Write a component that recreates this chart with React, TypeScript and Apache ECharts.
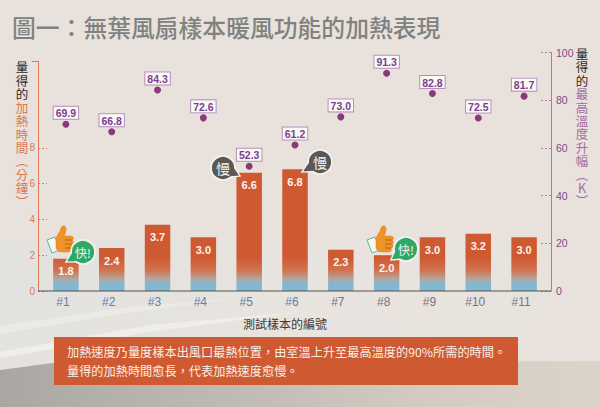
import React, { useEffect, useRef } from "react";
import * as echarts from "echarts";

const categories = ["#1", "#2", "#3", "#4", "#5", "#6", "#7", "#8", "#9", "#10", "#11"];
const heatingMinutes = [1.8, 2.4, 3.7, 3.0, 6.6, 6.8, 2.3, 2.0, 3.0, 3.2, 3.0];
const maxTempRise = [69.9, 66.8, 84.3, 72.6, 52.3, 61.2, 73.0, 91.3, 82.8, 72.5, 81.7];
const leftTicks = [0, 2, 4, 6, 8];
const titleText = "圖一\uFF1A無葉風扇樣本暖風功能的加熱表現";
const xName = "測試樣本的編號";
const noteLines = [
  "加熱速度乃量度樣本出風口最熱位置\uFF0C由室溫上升至最高溫度的90%所需的時間。",
  "量得的加熱時間愈長\uFF0C代表加熱速度愈慢。",
];
const measured = ["量", "得", "的"];
const leftName = ["加", "熱", "時", "間", "︵", "分", "鐘", "︶"];
const rightName = ["最", "高", "溫", "度", "升", "幅", "︵", "K", "︶"];

const CJK = '"Noto Sans CJK TC", sans-serif';
const LATIN = '"Liberation Sans", Arial, sans-serif';
const ORANGE = "#cf5a31";
const PURPLE = "#8a3a7c";

echarts.graphic.registerShape(
  "thumbFist",
  echarts.graphic.extendPath(
    "M9 13 C11 9 13 7 14 3 C15 0 19 0 19 4 C19 7 18 9 17 11 L24 11 C27 11 27 15 25 15 C27 16 27 19 25 19 C27 20 26 23 24 23 C25 25 24 27 22 27 L14 27 C11 27 10 25 9 23 Z",
    {}
  )
);

function bubble(cx: number, cy: number, tx: number, ty: number, a: number, color: string, label: string, size: number) {
  const dx = tx - cx;
  const dy = ty - cy;
  const d = Math.hypot(dx, dy);
  const nx = -dy / d;
  const ny = dx / d;
  const bx = cx + (dx / d) * 9;
  const by = cy + (dy / d) * 9;
  const tail = [
    [bx + nx * 6, by + ny * 6],
    [tx, ty],
    [bx - nx * 6, by - ny * 6],
  ];
  return [
    { type: "polygon", z: 100, shape: { points: tail }, style: { fill: color, stroke: "#f4f1ee", lineWidth: 1.5 } },
    { type: "circle", z: 100, shape: { cx, cy, r: a }, style: { fill: color, stroke: "#f4f1ee", lineWidth: 1.8 } },
    { type: "polygon", z: 100, shape: { points: tail.map(([x, y]) => [x + (cx - x) * 0.08, y + (cy - y) * 0.08]) }, style: { fill: color } },
    {
      type: "text",
      z: 101,
      x: cx,
      y: cy,
      style: { text: label, fill: "#f4f6f0", font: `${size}px ${CJK}`, align: "center", verticalAlign: "middle" },
    },
  ];
}

function thumb(x: number, y: number) {
  return {
    type: "group",
    x,
    y,
    z: 100,
    children: [
      { type: "polygon", z: 100, shape: { points: [[0, 15], [8, 12], [13, 25], [5, 28]] }, style: { fill: "#f6f8f2", stroke: "#5cb59a", lineWidth: 1 } },
      { type: "thumbFist", z: 100, x: 0, y: 0, style: { fill: "#ee9327", stroke: "#e2801c", lineWidth: 0.5 } },
      { type: "line", z: 101, shape: { x1: 18, y1: 15, x2: 25, y2: 15 }, style: { stroke: "#b9631a", lineWidth: 1 } },
      { type: "line", z: 101, shape: { x1: 18, y1: 19, x2: 25, y2: 19 }, style: { stroke: "#b9631a", lineWidth: 1 } },
      { type: "line", z: 101, shape: { x1: 18, y1: 23, x2: 24, y2: 23 }, style: { stroke: "#b9631a", lineWidth: 1 } },
    ],
  };
}

function columnText(chars: string[], x: number, y: number, fill: string, z = 50) {
  return {
    type: "text",
    z,
    x,
    y,
    style: {
      text: chars.join("\n"),
      fill,
      font: `12.5px ${CJK}`,
      lineHeight: 13.4,
      align: "center",
      verticalAlign: "top",
    },
  };
}

export default function App() {
  const ref = useRef<HTMLDivElement>(null);
  useEffect(() => {
    document.body.style.margin = "0";
    const chart = echarts.init(ref.current!, null, { renderer: "svg" });
    const barGradient = new echarts.graphic.LinearGradient(
      0,
      291,
      0,
      258,
      [
        { offset: 0, color: "#82b9d4" },
        { offset: 0.25, color: "#84b6cf" },
        { offset: 0.36, color: "#b3a79c" },
        { offset: 0.62, color: "#cf7452" },
        { offset: 1, color: ORANGE },
      ],
      true
    );
    chart.setOption({
      animation: false,
      backgroundColor: "#e9e1db",
      grid: [
        { left: 43, right: 53, top: 61, bottom: 116 },
        { left: 43, right: 53, top: 52.5, bottom: 116 },
      ],
      xAxis: [
        {
          type: "category",
          gridIndex: 0,
          data: categories,
          axisLine: { show: false },
          axisTick: { show: false },
          axisLabel: {
            margin: 5,
            padding: [0, 6, 0, 0],
            interval: 0,
            fontFamily: LATIN,
            fontSize: 12,
            color: (_v: string, i: number) => (i < 6 ? "#5f80aa" : "#7d7282"),
          },
          name: xName,
          nameLocation: "middle",
          nameGap: 26,
          nameTextStyle: { fontFamily: CJK, fontSize: 12, color: "#3a3a3a", padding: [0, 20, 0, 0] },
        },
        { type: "category", gridIndex: 1, data: categories, show: false },
      ],
      yAxis: [
        {
          type: "value",
          gridIndex: 0,
          min: 0,
          max: 12.85,
          offset: 5,
          splitLine: { show: false },
          axisLine: { show: true, lineStyle: { color: "#dc7b57", width: 1 } },
          axisTick: { show: true, inside: true, length: 9, customValues: leftTicks, lineStyle: { color: "#dc7b57", type: [2, 2] } },
          axisLabel: { customValues: leftTicks, margin: 3, fontFamily: LATIN, fontSize: 10, color: "#d67b58" },
        },
        {
          type: "value",
          gridIndex: 1,
          position: "right",
          min: 0,
          max: 100,
          interval: 20,
          offset: 4,
          splitLine: { show: false },
          axisLine: { show: true, lineStyle: { color: "#a67cab", width: 1 } },
          axisTick: { show: true, inside: true, length: 10, lineStyle: { color: "#a67cab", type: [2, 2] } },
          axisLabel: { margin: 5, fontFamily: LATIN, fontSize: 10.5, color: "#7c4c90" },
        },
      ],
      series: [
        {
          type: "bar",
          xAxisIndex: 0,
          yAxisIndex: 0,
          data: heatingMinutes,
          barWidth: 25.5,
          itemStyle: { color: barGradient },
          label: {
            show: true,
            position: "insideTop",
            distance: 7,
            formatter: (p: any) => p.value.toFixed(1),
            color: "#fbf3ee",
            fontFamily: LATIN,
            fontWeight: "bold",
            fontSize: 11,
          },
        },
        {
          type: "line",
          xAxisIndex: 1,
          yAxisIndex: 1,
          data: maxTempRise,
          symbol: "circle",
          symbolSize: 7,
          lineStyle: { opacity: 0 },
          itemStyle: { color: PURPLE },
          z: 5,
          label: {
            show: true,
            position: "top",
            distance: 2,
            formatter: (p: any) => p.value.toFixed(1),
            color: "#7a3f8c",
            fontFamily: LATIN,
            fontWeight: "bold",
            fontSize: 10.5,
            backgroundColor: "#fbf9f8",
            borderColor: "#b68fbd",
            borderWidth: 1,
            padding: [1, 2, 0, 2],
          },
        },
      ],
      graphic: [
        { type: "rect", z: -10, silent: true, shape: { x: 0, y: 240, width: 600, height: 125 }, style: { fill: new echarts.graphic.LinearGradient(0, 0, 1, 0, [{ offset: 0, color: "#e3e2de" }, { offset: 0.5, color: "#e8e4df" }, { offset: 1, color: "#e9e2dc" }]) } },
        { type: "polygon", z: -9, silent: true, shape: { points: [[0, 352], [150, 325], [300, 312], [150, 332], [0, 358]] }, style: { fill: "#efeeea" } },
        { type: "polygon", z: -9, silent: true, shape: { points: [[0, 326], [120, 308], [240, 298], [120, 314], [0, 334]] }, style: { fill: "#ebeae6" } },
        { type: "polygon", z: -8, silent: true, shape: { points: [[0, 370], [60, 362], [600, 361], [600, 407], [0, 407]] }, style: { fill: new echarts.graphic.LinearGradient(0, 0, 1, 0, [{ offset: 0, color: "#aaa7a3" }, { offset: 0.35, color: "#bdb8b2" }, { offset: 0.7, color: "#d3cbc1" }, { offset: 1, color: "#dcd3c9" }]) } },
        { type: "line", z: 10, shape: { x1: 38, y1: 291, x2: 551, y2: 291 }, style: { stroke: "#55504c", lineWidth: 1.2 } },
        { type: "line", z: 10, shape: { x1: 32, y1: 61.5, x2: 38.5, y2: 61.5 }, style: { stroke: "#dc7b57", lineWidth: 1 } },
        { type: "text", z: 50, x: 12, y: 26, style: { text: titleText, fill: "#7f8281", font: `500 23.8px ${CJK}`, verticalAlign: "middle" } },
        columnText(measured, 22, 60, "#2f2a28"),
        columnText(leftName, 22, 100.5, "#d97850"),
        columnText(measured, 582, 46.5, "#2f2a28"),
        columnText(rightName, 582, 87, "#a56aa6"),
        { type: "rect", z: 20, shape: { x: 54, y: 337, width: 464, height: 48 }, style: { fill: ORANGE } },
        { type: "text", z: 21, x: 67, y: 352, style: { text: noteLines[0], fill: "#f8efe6", font: `12.2px ${CJK}`, verticalAlign: "middle" } },
        { type: "text", z: 21, x: 67, y: 371, style: { text: noteLines[1], fill: "#f8efe6", font: `12.2px ${CJK}`, verticalAlign: "middle" } },
        thumb(47, 225),
        thumb(367, 225),
        ...bubble(83, 252, 66, 262, 12, "#2fa866", "快!", 12),
        ...bubble(406, 249, 391, 260, 12, "#2fa866", "快!", 12),
        ...bubble(223, 168, 240, 176, 12, "#5a5856", "慢", 14),
        ...bubble(320, 162, 302, 172, 12, "#5a5856", "慢", 14),
      ],
    });
    return () => chart.dispose();
  }, []);
  return <div ref={ref} style={{ width: 600, height: 407 }} />;
}
